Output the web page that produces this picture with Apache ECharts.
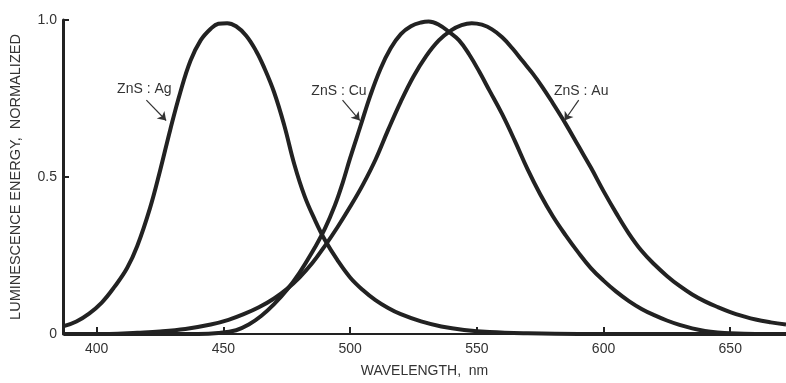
<!DOCTYPE html>
<html>
<head>
<meta charset="utf-8">
<script src="https://cdn.jsdelivr.net/npm/echarts@6/dist/echarts.min.js"></script>
<style>
  html, body { margin: 0; padding: 0; background: #fff; }
  #chart { width: 786px; height: 383px; }
</style>
</head>
<body>
<div id="chart"></div>
<script>
// emission spectra, wavelength (nm) and normalized energy
var agWave = [387, 392, 397, 402, 407, 412, 416, 421, 425, 429, 433, 437, 441, 445, 448, 451.5, 455, 459, 463, 466, 470, 474, 478, 482, 486, 490, 495, 500, 505, 510, 515, 520, 528, 536, 545, 555, 570, 590, 672];
var agVal  = [0.025, 0.04, 0.065, 0.10, 0.15, 0.21, 0.28, 0.40, 0.52, 0.65, 0.77, 0.87, 0.935, 0.972, 0.988, 0.99, 0.98, 0.95, 0.90, 0.85, 0.77, 0.665, 0.54, 0.44, 0.365, 0.30, 0.235, 0.18, 0.14, 0.108, 0.083, 0.063, 0.04, 0.024, 0.013, 0.006, 0.002, 0, 0];

var cuWave = [387, 440, 448, 455, 460, 465, 470, 475, 480, 485, 490, 494, 497, 500, 504, 508, 512, 516, 520, 524, 528, 531, 535, 539, 543, 547, 551, 555, 560, 565, 570, 575, 580, 585, 590, 595, 600, 605, 610, 615, 620, 625, 630, 635, 640, 645, 650, 660, 672];
var cuVal  = [0, 0, 0.003, 0.012, 0.03, 0.058, 0.095, 0.14, 0.195, 0.26, 0.335, 0.41, 0.48, 0.56, 0.66, 0.76, 0.845, 0.91, 0.955, 0.98, 0.992, 0.995, 0.985, 0.962, 0.935, 0.89, 0.835, 0.775, 0.70, 0.615, 0.525, 0.445, 0.375, 0.315, 0.26, 0.21, 0.17, 0.135, 0.105, 0.08, 0.06, 0.043, 0.029, 0.018, 0.01, 0.005, 0.002, 0, 0];

var auWave = [387, 405, 416, 425, 435, 445, 452, 458, 464, 470, 475, 480, 485, 490, 495, 500, 505, 510, 515, 520, 525, 530, 535, 540, 544, 548, 552, 556, 560, 564, 568, 572, 576, 580, 585, 590, 595, 600, 605, 610, 615, 620, 625, 630, 635, 640, 645, 650, 655, 660, 666, 672];
var auVal  = [0, 0, 0.004, 0.008, 0.016, 0.03, 0.045, 0.063, 0.085, 0.113, 0.143, 0.18, 0.225, 0.28, 0.34, 0.405, 0.475, 0.555, 0.65, 0.74, 0.82, 0.885, 0.935, 0.968, 0.984, 0.99, 0.985, 0.97, 0.945, 0.91, 0.87, 0.83, 0.785, 0.735, 0.67, 0.60, 0.53, 0.455, 0.385, 0.32, 0.265, 0.222, 0.185, 0.153, 0.126, 0.104, 0.086, 0.07, 0.057, 0.046, 0.037, 0.03];

var xTicks = [400, 450, 500, 550, 600, 650];
var yTicks = [0, 0.5, 1];

// label text, label anchor, arrow start, arrow end (data coords)
var tags = [
    { name: 'ZnS : Ag', at: [418.8, 0.78],  from: [419.6, 0.745], to: [427.4, 0.68] },
    { name: 'ZnS : Cu', at: [495.6, 0.775], from: [497.0, 0.745], to: [503.8, 0.68] },
    { name: 'ZnS : Au', at: [591.2, 0.775], from: [590.2, 0.745], to: [584.6, 0.68] }
];

function pairs(w, v) {
    return w.map(function (x, i) { return [x, v[i]]; });
}

var ink = '#222';
var txt = '#333';
var font = 'Liberation Sans, Arial, Helvetica, sans-serif';

function curve(name, data, tag) {
    return {
        name: name,
        type: 'line',
        data: data,
        smooth: 0.4,
        showSymbol: false,
        silent: true,
        lineStyle: { color: ink, width: 4 },
        markLine: {
            silent: true,
            symbol: ['none', 'arrow'],
            symbolSize: 8,
            lineStyle: { color: txt, width: 1.2, type: 'solid' },
            label: { show: false },
            data: [[{ coord: tag.from }, { coord: tag.to }]]
        },
        markPoint: {
            silent: true,
            symbol: 'circle',
            symbolSize: 0,
            label: {
                show: true,
                position: 'inside',
                formatter: '{b}',
                color: txt,
                fontSize: 14,
                fontFamily: font
            },
            data: [{ name: tag.name, coord: tag.at }]
        }
    };
}

var dom = document.getElementById('chart');
var myChart = echarts.init(dom);
var option = {
    animation: false,
    backgroundColor: '#fff',
    grid: { left: 58, right: 0, top: 20, bottom: 43 },
    xAxis: {
        type: 'value',
        min: 386.7,
        max: 672,
        name: 'WAVELENGTH,  nm',
        nameLocation: 'middle',
        nameGap: 30,
        nameTextStyle: { color: txt, fontSize: 14, fontFamily: font },
        axisLine: { lineStyle: { color: ink, width: 2 } },
        axisTick: { inside: true, length: 7, customValues: xTicks, lineStyle: { color: ink, width: 2 } },
        axisLabel: { customValues: xTicks, margin: 8, color: txt, fontSize: 14, fontFamily: font },
        splitLine: { show: false }
    },
    yAxis: {
        type: 'value',
        min: 0,
        max: 1,
        name: 'LUMINESCENCE ENERGY,  NORMALIZED',
        nameLocation: 'middle',
        nameGap: 40,
        nameTextStyle: { color: txt, fontSize: 14.5, fontFamily: font },
        axisLine: { show: true, lineStyle: { color: ink, width: 3 } },
        axisTick: { show: true, inside: true, length: 6, customValues: yTicks, lineStyle: { color: ink, width: 2 } },
        axisLabel: {
            customValues: yTicks,
            margin: 6,
            color: txt,
            fontSize: 14,
            fontFamily: font,
            formatter: function (v) { return v === 1 ? '1.0' : String(v); }
        },
        splitLine: { show: false }
    },
    series: [
        curve('ZnS:Ag', pairs(agWave, agVal), tags[0]),
        curve('ZnS:Cu', pairs(cuWave, cuVal), tags[1]),
        curve('ZnS:Au', pairs(auWave, auVal), tags[2])
    ]
};
if (option && typeof option === "object") {
    myChart.setOption(option, true);
}
</script>
</body>
</html>
